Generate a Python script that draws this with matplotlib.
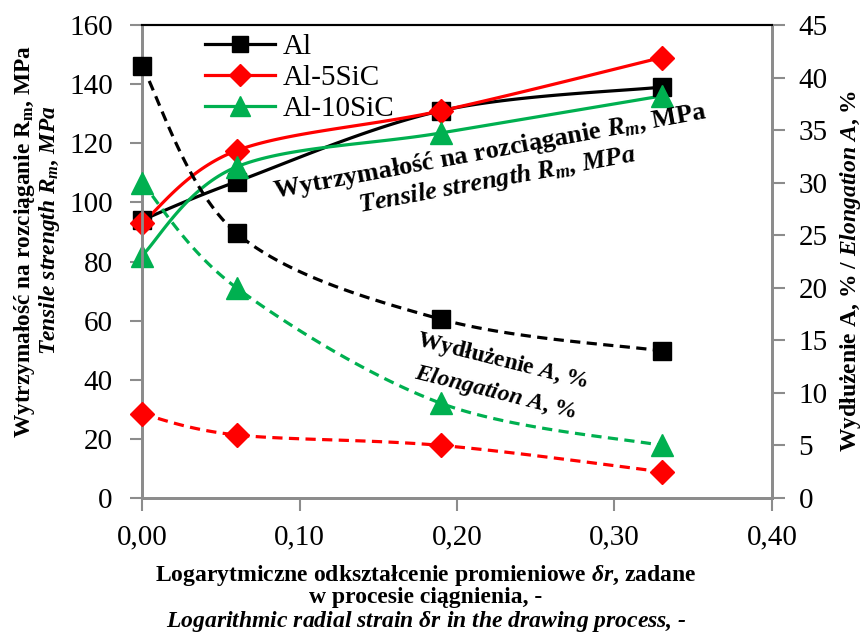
import matplotlib
matplotlib.use("Agg")
import matplotlib.pyplot as plt
import numpy as np
from matplotlib.lines import Line2D

# ---- data ----
strain = [0.00, 0.06, 0.19, 0.33]
rm_al = [94, 107, 131, 139]
rm_5sic = [93, 117.5, 131, 149]
rm_10sic = [82, 112, 123.5, 136]
el_al = [41.1, 25.2, 17.0, 14.0]
el_5sic = [8.0, 6.0, 5.0, 2.5]
el_10sic = [30.0, 20.0, 9.0, 5.0]
series_names = ['Al', 'Al-5SiC', 'Al-10SiC']
x_ticks = [0.0, 0.1, 0.2, 0.3, 0.4]
x_ticklabels = ['0,00', '0,10', '0,20', '0,30', '0,40']
left_ticks = [0, 20, 40, 60, 80, 100, 120, 140, 160]
right_ticks = [0, 5, 10, 15, 20, 25, 30, 35, 40, 45]

colors = ['#000000', '#ff0000', '#00b050']
markers = ['s', 'D', '^']
msizes = [13.5, 12, 16]

plt.rcParams['font.family'] = ['Liberation Serif', 'DejaVu Serif']
plt.rcParams['mathtext.fontset'] = 'custom'
plt.rcParams['mathtext.rm'] = 'Liberation Serif:bold'
plt.rcParams['mathtext.it'] = 'Liberation Serif:italic:bold'
plt.rcParams['mathtext.bf'] = 'Liberation Serif:bold'

W, H = 862, 639
fig = plt.figure(figsize=(W / 100, H / 100), dpi=100)
L, R, B, T = 142, 772, 498, 25
ax = fig.add_axes([L / W, 1 - B / H, (R - L) / W, (B - T) / H])
ax2 = ax.twinx()


def smooth(x, y, xs, ys, n=40):
    pts = np.column_stack([np.asarray(x, float) / xs, np.asarray(y, float) / ys])
    N = len(pts)
    out = [pts[0]]
    t = np.linspace(0, 1, n)[1:, None]
    for i in range(N - 1):
        p0 = pts[i - 1] if i > 0 else pts[i]
        p1, p2 = pts[i], pts[i + 1]
        p3 = pts[i + 2] if i + 2 < N else pts[i + 1]
        c1 = p1 + (p2 - p0) / 6
        c2 = p2 - (p3 - p1) / 6
        b = (1 - t) ** 3 * p1 + 3 * (1 - t) ** 2 * t * c1 + 3 * (1 - t) * t ** 2 * c2 + t ** 3 * p2
        out.extend(b)
    out = np.array(out)
    return out[:, 0] * xs, out[:, 1] * ys


xs = 0.4 / (R - L)
ys_l = 160 / (B - T)
ys_r = 45 / (B - T)
dash = (0, (3.2, 2.0))

for vals, c, m, ms in zip([el_al, el_5sic, el_10sic], colors, markers, msizes):
    sx, sy = smooth(strain, vals, xs, ys_r)
    ax2.plot(sx, sy, color=c, lw=2.3, linestyle=dash, zorder=2, clip_on=False)
    ax2.plot(strain, vals, linestyle='none', marker=m, ms=ms, color=c, zorder=3, clip_on=False)

for vals, c, m, ms in zip([rm_al, rm_5sic, rm_10sic], colors, markers, msizes):
    sx, sy = smooth(strain, vals, xs, ys_l)
    ax.plot(sx, sy, color=c, lw=2.3, zorder=2, clip_on=False)
    ax.plot(strain, vals, linestyle='none', marker=m, ms=ms, color=c, zorder=3, clip_on=False)

ax.set_xlim(0, 0.4)
ax.set_ylim(0, 160)
ax2.set_ylim(0, 45)
ax.set_xticks(x_ticks)
ax.set_xticklabels(x_ticklabels)
ax.set_yticks(left_ticks)
ax2.set_yticks(right_ticks)

gray = '#8c8c8c'
for a in (ax, ax2):
    for s in ('left', 'right', 'bottom'):
        a.spines[s].set_color(gray)
        a.spines[s].set_linewidth(2.0)
    a.spines['top'].set_color('black')
    a.spines['top'].set_linewidth(1.5)
ax.tick_params(axis='both', labelsize=21, color=gray, length=9, width=1.5, direction='out')
ax.tick_params(axis='x', pad=10)
ax.tick_params(axis='y', pad=12)
ax2.tick_params(axis='y', labelsize=21, color=gray, length=9, width=1.5, direction='out', pad=10)

handles = [Line2D([], [], color=c, lw=2.3, marker=m, ms=ms * 0.9) for c, m, ms in zip(colors, markers, msizes)]
leg = ax.legend(handles, series_names, loc='upper left', bbox_to_anchor=((205 - L) / (R - L), 0.982),
                frameon=False, fontsize=21, handlelength=2.4, handletextpad=0.25,
                labelspacing=0.16, borderpad=0.0, borderaxespad=0.0)


def ft(x, y, s, **kw):
    fig.text(x / W, 1 - y / H, s, ha='center', va='center', **kw)


# axis labels
ft(426, 575, 'Logarytmiczne odkształcenie promieniowe $δr$, zadane', fontsize=17, fontweight='bold')
ft(426, 598, 'w procesie ciągnienia, -', fontsize=17, fontweight='bold')
ft(426, 622, 'Logarithmic radial strain $δr$ in the drawing process, -', fontsize=17,
   fontweight='bold', style='italic')
ft(25, 241, 'Wytrzymałość na rozciąganie R$_\\mathrm{m}$, MPa', fontsize=16.8, fontweight='bold', rotation=90)
ft(50, 230, 'Tensile strength R$_m$, MPa', fontsize=16.8, fontweight='bold', style='italic', rotation=90)
ft(851, 271, 'Wydłużenie A, % / $Elongation\\ A$, %', fontsize=17, fontweight='bold', rotation=90)

# in-plot annotations
ft(490, 152, 'Wytrzymałość na rozciąganie $R_m$, MPa', fontsize=19, fontweight='bold',
   rotation=10.5, rotation_mode='anchor')
ft(497, 180, 'Tensile strength $R_m$, MPa', fontsize=19, fontweight='bold', style='italic',
   rotation=10.5, rotation_mode='anchor')
ft(503, 361, 'Wydłużenie $A$, %', fontsize=17, fontweight='bold', rotation=-14, rotation_mode='anchor')
ft(496, 393, '$Elongation\\ A$, %', fontsize=17, fontweight='bold', rotation=-14, rotation_mode='anchor')

fig.savefig('out.png', dpi=100)
